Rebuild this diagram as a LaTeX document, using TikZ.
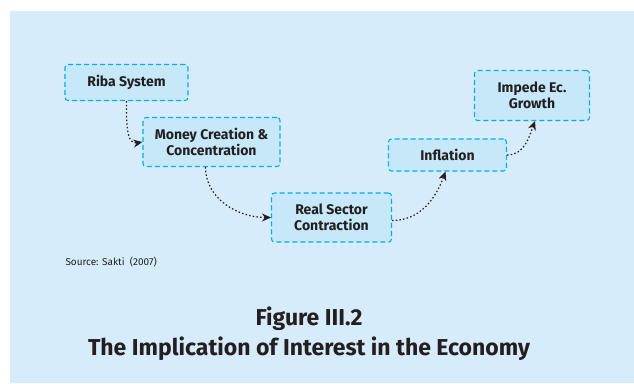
\documentclass[tikz,border=0pt]{standalone}
\usepackage{fontspec}
\setmainfont{Fira Sans}
\usepackage{tikz}
\usetikzlibrary{arrows.meta}

\definecolor{panelblue}{RGB}{214,236,250}
\definecolor{boxblue}{RGB}{199,232,248}
\definecolor{edgecyan}{RGB}{0,174,239}
\definecolor{inkgray}{RGB}{35,31,32}

\begin{document}
\begin{tikzpicture}[x=1pt,y=-1pt,>={Stealth[length=9pt,width=8pt]},
    stage/.style={draw=edgecyan,fill=boxblue,line width=1.1pt,dash pattern=on 5pt off 3pt,
      rounded corners=3pt,inner sep=0pt,align=center,text=inkgray,
      font=\fontsize{14}{16.5}\selectfont\bfseries},
    flow/.style={->,draw=inkgray,line width=1.2pt,dash pattern=on 1.5pt off 2.2pt}]
  \useasboundingbox (0,0) rectangle (634,383);
  \fill[panelblue] (10,11) rectangle (634,383);

  \node[stage,minimum width=123pt,minimum height=36pt] (riba) at (126.5,82.5) {Riba System};
  \node[stage,minimum width=137pt,minimum height=49pt] (money) at (211.5,142) {Money Creation \&\\Concentration};
  \node[stage,minimum width=120pt,minimum height=49pt] (real) at (331.5,217.5) {Real Sector\\Contraction};
  \node[stage,minimum width=118pt,minimum height=32pt] (inflation) at (447.5,155) {Inflation};
  \node[stage,minimum width=115pt,minimum height=50pt] (impede) at (532,95.5) {Impede Ec.\\Growth};

  \draw[flow] (riba.south) to[out=-90,in=190] (money.west);
  \draw[flow] ([xshift=-6pt]money.south) to[out=-90,in=180] (real.west);
  \draw[flow] ([yshift=-3pt]real.east) to[out=0,in=-110] ([xshift=-2pt]inflation.south);
  \draw[flow] (inflation.east) to[out=0,in=-110] ([xshift=3pt]impede.south);

  \node[anchor=west,text=inkgray,font=\fontsize{10}{12}\selectfont] (source) at (62,262) {Source: Sakti\ \ (2007)};
  \node[align=center,text=inkgray,font=\fontsize{23}{30}\selectfont\bfseries] (caption) at (309,334) {Figure III.2\\The Implication of Interest in the Economy};
\end{tikzpicture}
\end{document}
